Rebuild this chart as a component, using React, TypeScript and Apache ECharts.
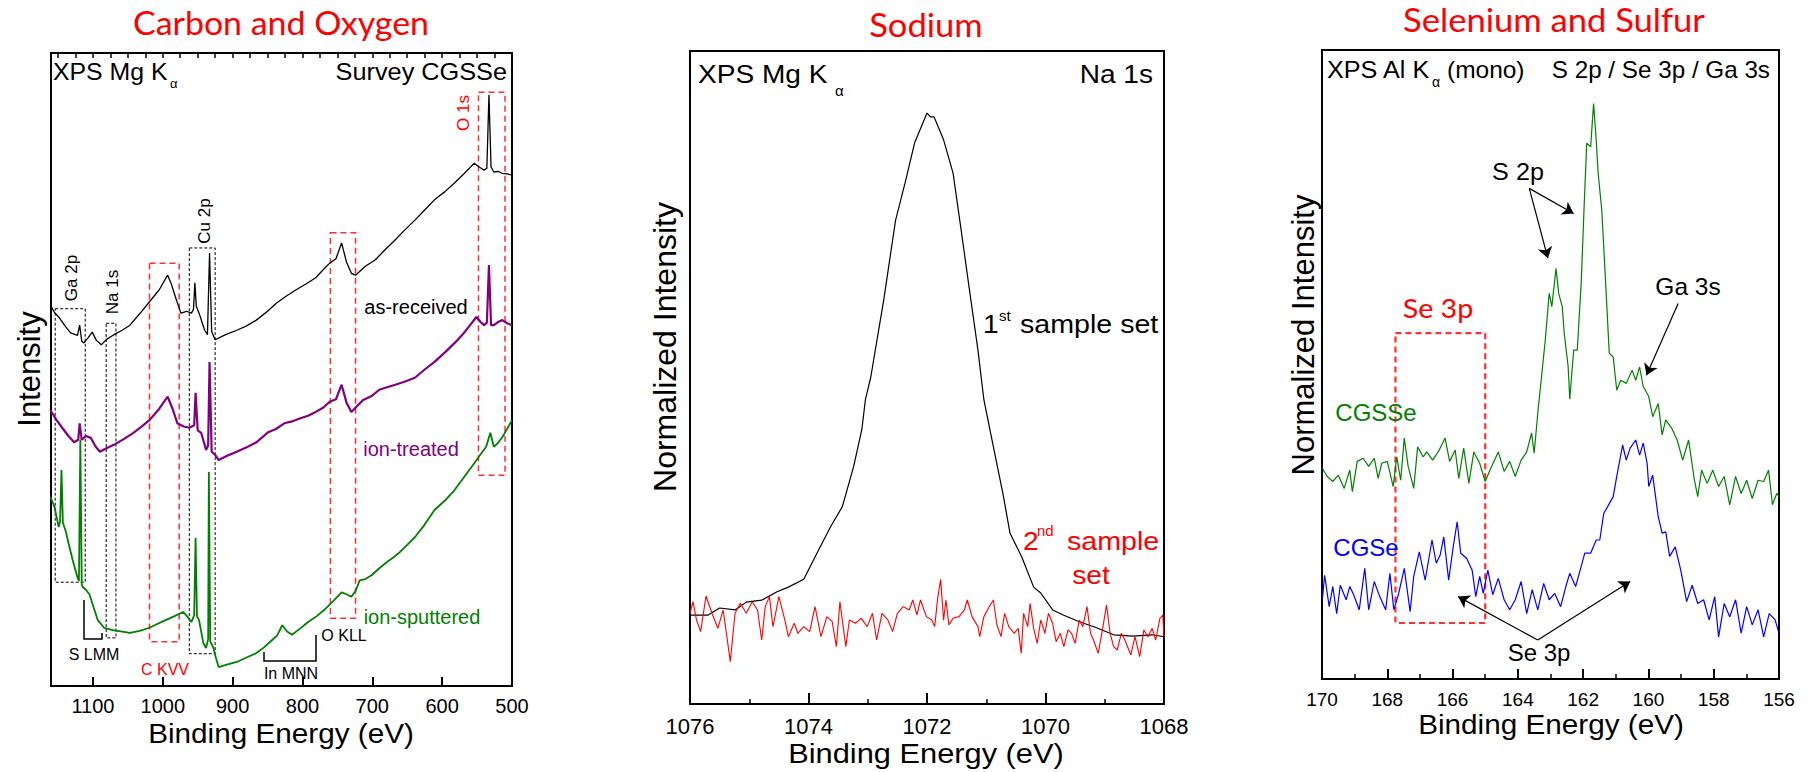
import React, { useEffect, useRef } from "react";
import * as echarts from "echarts";

// ---------- Panel 1: survey spectra (Binding energy eV, relative intensity) ----------
const asReceived: [number, number][] = [
  [1161, 60.2], [1155, 59.0], [1149, 58.3], [1140, 56.9], [1132, 55.8], [1122, 55.4], [1119, 57.0], [1116, 54.5],
  [1113, 54.2], [1107, 55.0], [1101, 55.9], [1095, 54.6], [1088, 53.9], [1080, 54.8], [1070, 55.5], [1058, 56.2],
  [1047, 57.0], [1033, 58.8], [1019, 60.7], [1005, 62.6], [993, 64.9], [988, 63.6], [982, 61.5], [974, 58.9],
  [966, 59.2], [959, 58.9], [956, 59.5], [954, 63.7], [952, 60.0], [948, 58.9], [940, 56.2], [936, 55.5],
  [933, 68.4], [930, 56.0], [925, 54.7], [910, 55.5], [894, 56.2], [880, 56.9], [866, 57.8], [850, 59.2],
  [837, 60.5], [823, 61.6], [809, 62.6], [795, 63.5], [781, 64.5], [770, 65.8], [761, 66.8], [752, 67.5],
  [744, 70.0], [737, 67.0], [730, 65.2], [724, 64.9], [710, 66.3], [696, 67.3], [681, 69.0], [667, 70.5],
  [653, 72.1], [639, 73.6], [625, 75.2], [611, 76.8], [596, 78.1], [582, 79.5], [568, 81.0], [554, 82.6],
  [547, 82.0], [540, 81.5], [536, 81.8], [533, 93.4], [530, 82.0], [526, 81.2], [520, 81.3], [514, 81.0],
  [507, 80.9], [500, 80.7],
];
const ionTreated: [number, number][] = [
  [1161, 43.6], [1152, 42.0], [1144, 40.8], [1135, 39.5], [1127, 38.5], [1121, 38.9], [1119, 41.5], [1116, 38.9],
  [1110, 39.5], [1103, 39.2], [1096, 37.8], [1090, 37.0], [1080, 37.6], [1070, 38.1], [1056, 39.0], [1042, 40.0],
  [1030, 41.0], [1019, 42.0], [1005, 43.8], [993, 45.7], [986, 43.8], [979, 41.5], [970, 41.0], [962, 40.8],
  [955, 41.2], [953, 46.3], [950, 40.4], [945, 40.0], [938, 37.3], [935, 38.0], [933, 51.2], [930, 37.0],
  [925, 36.5], [920, 35.7], [907, 36.4], [894, 37.0], [880, 37.7], [866, 38.5], [849, 40.1], [838, 40.6],
  [826, 41.5], [815, 41.8], [803, 42.3], [792, 42.7], [781, 43.3], [770, 44.0], [761, 44.9], [752, 45.3],
  [744, 47.6], [737, 44.8], [730, 43.3], [722, 44.2], [713, 45.2], [701, 45.8], [690, 46.8], [679, 47.2],
  [667, 47.6], [653, 48.1], [639, 48.7], [625, 50.0], [611, 51.2], [596, 52.7], [582, 54.2], [570, 55.6],
  [560, 57.0], [551, 58.3], [545, 57.5], [540, 57.0], [536, 57.4], [533, 66.5], [530, 57.0], [526, 57.0],
  [520, 57.5], [514, 57.8], [507, 57.3], [500, 57.0],
];
const ionSputtered: [number, number][] = [
  [1161, 29.9], [1155, 28.3], [1149, 25.1], [1147, 26.0], [1145, 34.1], [1143, 25.8], [1139, 24.5], [1135, 22.6],
  [1129, 19.9], [1122, 17.1], [1120, 16.6], [1118, 38.9], [1116, 16.0], [1114, 15.6], [1110, 15.2], [1105, 14.5],
  [1101, 13.1], [1093, 10.4], [1084, 9.2], [1070, 8.8], [1058, 8.6], [1047, 8.4], [1033, 8.7], [1019, 9.2],
  [1008, 9.8], [996, 10.4], [984, 11.0], [971, 11.7], [965, 11.0], [959, 10.1], [955, 11.2], [953, 23.4],
  [951, 11.0], [948, 10.4], [942, 6.8], [938, 6.0], [935, 7.4], [934, 33.8], [932, 7.0], [928, 6.2],
  [924, 4.5], [920, 3.0], [907, 3.4], [894, 3.8], [880, 4.5], [866, 5.2], [855, 6.1], [843, 7.3],
  [836, 8.0], [829, 9.6], [822, 8.6], [815, 8.1], [803, 9.1], [792, 10.1], [780, 11.0], [769, 12.0],
  [756, 13.4], [744, 14.8], [737, 14.5], [730, 14.1], [724, 15.0], [718, 16.7], [710, 16.9], [701, 17.5],
  [690, 18.6], [679, 19.6], [670, 20.3], [662, 21.0], [650, 22.3], [639, 23.5], [625, 25.5], [611, 27.8],
  [596, 29.3], [582, 31.0], [568, 33.1], [554, 35.2], [545, 36.6], [537, 37.8], [531, 40.0], [526, 37.8],
  [520, 38.4], [514, 39.3], [507, 40.6], [500, 42.0],
];
// dashed boxes [eV from, eV to, I low, I high]
const blackBoxes: number[][] = [
  [1154, 1111, 16.4, 59.6], [1081, 1067, 7.6, 57.3], [962, 925, 5.1, 69.2],
];
const redBoxes: number[][] = [
  [1019, 976.5, 7.0, 66.8], [760, 724, 10.7, 71.6], [548, 510, 33.3, 93.8],
];
const surveyTicks = [500, 1160, 100, 25];

// ---------- Panel 2: Na 1s ----------
const naFirst: [number, number][] = [
  [1076.0, 13.6], [1075.7, 13.6], [1075.5, 14.7], [1075.24, 14.4], [1075.05, 15.6], [1074.79, 15.9], [1074.53, 17.2],
  [1074.34, 17.9], [1074.08, 19.1], [1073.89, 22.5], [1073.63, 27.1], [1073.43, 30.2], [1073.24, 36.3], [1073.1, 42.0],
  [1073.04, 46.6], [1072.95, 50.0], [1072.73, 61.9], [1072.53, 74.1], [1072.37, 79.8], [1072.21, 85.9], [1072.0, 90.5],
  [1071.94, 89.9], [1071.88, 89.9], [1071.72, 86.4], [1071.56, 81.3], [1071.43, 73.0], [1071.3, 64.5], [1071.14, 54.2],
  [1071.04, 46.6], [1070.88, 39.4], [1070.72, 32.3], [1070.6, 26.2], [1070.4, 22.5], [1070.2, 17.9], [1070.08, 17.0],
  [1069.88, 14.4], [1069.69, 13.6], [1069.43, 12.6], [1069.17, 11.8], [1068.85, 10.6], [1068.53, 10.4], [1068.2, 10.6],
  [1068.0, 10.3],
];
const naSecond: [number, number][] = [
  [1076.0, 13.89], [1075.95, 15.67], [1075.89, 12.87], [1075.82, 11.08], [1075.73, 16.54], [1075.63, 13.89],
  [1075.53, 11.59], [1075.44, 14.4], [1075.32, 6.49], [1075.24, 13.89], [1075.15, 15.42], [1075.05, 13.89],
  [1074.95, 15.67], [1074.86, 14.4], [1074.79, 9.8], [1074.73, 14.91], [1074.66, 16.44], [1074.6, 11.85],
  [1074.5, 16.44], [1074.4, 12.87], [1074.34, 10.31], [1074.24, 12.36], [1074.18, 10.83], [1074.08, 11.85],
  [1073.98, 11.08], [1073.89, 14.91], [1073.79, 10.31], [1073.69, 13.38], [1073.6, 12.61], [1073.53, 8.78],
  [1073.47, 15.67], [1073.37, 8.78], [1073.31, 12.87], [1073.21, 12.36], [1073.11, 13.12], [1073.01, 11.85],
  [1072.92, 13.89], [1072.85, 9.8], [1072.76, 13.89], [1072.66, 12.87], [1072.58, 11.08], [1072.5, 13.89],
  [1072.4, 14.91], [1072.3, 14.4], [1072.24, 15.93], [1072.17, 13.63], [1072.11, 15.93], [1072.01, 13.38],
  [1071.92, 12.87], [1071.87, 11.85], [1071.82, 16.18], [1071.77, 19.09], [1071.72, 12.87], [1071.68, 15.93],
  [1071.63, 12.1], [1071.56, 13.12], [1071.46, 13.38], [1071.37, 14.4], [1071.32, 15.93], [1071.24, 13.38],
  [1071.14, 11.85], [1071.11, 10.31], [1071.04, 13.38], [1070.95, 14.91], [1070.88, 15.93], [1070.82, 12.1],
  [1070.75, 10.31], [1070.69, 13.89], [1070.62, 11.85], [1070.53, 10.83], [1070.46, 11.59], [1070.41, 7.76],
  [1070.37, 13.89], [1070.3, 11.85], [1070.26, 15.42], [1070.2, 11.59], [1070.14, 9.29], [1070.08, 12.87],
  [1070.01, 10.83], [1069.95, 13.89], [1069.88, 12.36], [1069.82, 9.55], [1069.75, 10.83], [1069.69, 8.78],
  [1069.62, 11.34], [1069.56, 10.83], [1069.5, 9.29], [1069.43, 12.87], [1069.37, 11.85], [1069.3, 14.91],
  [1069.24, 10.83], [1069.19, 9.8], [1069.11, 7.76], [1069.03, 11.85], [1068.97, 15.16], [1068.91, 10.83],
  [1068.85, 8.78], [1068.79, 8.27], [1068.72, 10.83], [1068.66, 9.8], [1068.56, 7.51], [1068.49, 10.31],
  [1068.41, 7.25], [1068.34, 11.34], [1068.27, 10.31], [1068.2, 11.59], [1068.14, 9.8], [1068.07, 13.12],
  [1068.02, 13.63], [1068.0, 10.31],
];
const naTicks = [1068, 1076, 2, 2];

// ---------- Panel 3: S 2p / Se 3p / Ga 3s ----------
const cgsse: [number, number][] = [
  [169.99, 33.5], [169.84, 32.2], [169.67, 31.4], [169.5, 32.4], [169.32, 30.3], [169.15, 33.2], [169.07, 29.8],
  [168.92, 34.6], [168.74, 35.1], [168.57, 33.8], [168.4, 35.1], [168.28, 31.9], [168.17, 34.3], [168.0, 34.6],
  [167.82, 30.6], [167.71, 35.3], [167.59, 31.6], [167.48, 38.3], [167.36, 33.8], [167.19, 30.3], [167.07, 36.9],
  [166.9, 35.3], [166.79, 36.1], [166.61, 34.8], [166.44, 36.1], [166.23, 38.3], [166.09, 34.6], [165.92, 36.4],
  [165.81, 31.9], [165.66, 36.7], [165.5, 31.1], [165.35, 36.1], [165.17, 34.3], [165.0, 31.4], [164.83, 33.5],
  [164.6, 36.1], [164.42, 33.0], [164.25, 34.6], [164.08, 32.2], [163.9, 34.8], [163.73, 36.1], [163.58, 39.1],
  [163.5, 35.9], [163.38, 42.8], [163.27, 48.3], [163.16, 53.9], [163.04, 61.3], [162.96, 59.2], [162.83, 65.3],
  [162.75, 61.3], [162.64, 59.2], [162.58, 55.0], [162.46, 49.7], [162.41, 44.5], [162.29, 52.3], [162.18, 52.3],
  [162.06, 62.9], [161.97, 75.1], [161.89, 85.2], [161.77, 84.6], [161.68, 91.5], [161.6, 85.7], [161.54, 80.4],
  [161.43, 74.6], [161.31, 62.9], [161.2, 51.8], [161.08, 51.2], [160.97, 45.9], [160.85, 47.5], [160.68, 47.0],
  [160.5, 49.1], [160.39, 47.5], [160.27, 49.6], [160.16, 46.5], [159.99, 44.9], [159.87, 41.7], [159.7, 43.8],
  [159.58, 38.8], [159.47, 41.2], [159.29, 39.9], [159.12, 38.0], [158.95, 34.8], [158.77, 38.0], [158.6, 31.9],
  [158.49, 29.0], [158.37, 33.2], [158.2, 31.1], [158.03, 33.2], [157.85, 30.6], [157.68, 32.2], [157.51, 27.7],
  [157.33, 32.2], [157.16, 29.5], [156.99, 31.6], [156.82, 28.7], [156.64, 31.6], [156.47, 31.4], [156.32, 33.2],
  [156.2, 27.7], [156.07, 29.5], [156.0, 29.0],
];
const cgse: [number, number][] = [
  [169.99, 12.6], [169.92, 16.5], [169.78, 11.5], [169.67, 14.7], [169.55, 10.4], [169.44, 14.9], [169.26, 12.6],
  [169.15, 14.7], [169.03, 13.4], [168.86, 11.0], [168.69, 17.6], [168.57, 11.0], [168.4, 15.5], [168.23, 13.1],
  [168.05, 11.0], [167.92, 16.8], [167.8, 11.0], [167.65, 13.6], [167.48, 17.6], [167.3, 10.7], [167.19, 16.3],
  [167.02, 20.2], [166.84, 15.7], [166.63, 22.1], [166.5, 18.4], [166.38, 19.7], [166.27, 22.6], [166.12, 15.7],
  [165.98, 21.0], [165.86, 25.0], [165.75, 20.0], [165.57, 19.2], [165.4, 17.3], [165.29, 13.1], [165.17, 16.3],
  [165.06, 13.6], [164.92, 17.3], [164.77, 13.4], [164.6, 16.0], [164.42, 12.6], [164.25, 11.0], [164.08, 12.6],
  [163.9, 15.5], [163.73, 10.4], [163.56, 14.2], [163.39, 11.0], [163.21, 15.2], [163.04, 12.6], [162.87, 13.6],
  [162.69, 11.5], [162.52, 14.9], [162.41, 16.8], [162.23, 14.7], [162.06, 17.9], [161.95, 20.0], [161.77, 20.0],
  [161.6, 22.1], [161.49, 22.1], [161.37, 26.3], [161.25, 27.4], [161.08, 29.0], [160.97, 32.2], [160.79, 37.2],
  [160.68, 34.8], [160.56, 36.7], [160.39, 38.0], [160.27, 35.6], [160.16, 37.5], [160.04, 34.3], [159.99, 30.6],
  [159.87, 32.4], [159.7, 25.8], [159.58, 23.2], [159.47, 23.4], [159.35, 19.5], [159.18, 21.0], [159.01, 17.3],
  [158.83, 12.3], [158.66, 14.9], [158.49, 12.0], [158.31, 12.6], [158.14, 9.4], [157.97, 13.1], [157.85, 6.7],
  [157.68, 12.0], [157.51, 9.9], [157.33, 12.6], [157.16, 7.3], [156.99, 11.5], [156.82, 8.6], [156.64, 11.0],
  [156.47, 6.7], [156.3, 10.4], [156.12, 9.4], [156.0, 7.3],
];
const se3pBox: number[] = [167.75, 165.0, 8.9, 55.0];
// arrows [from eV, from I, to eV, to I]
const arrows: number[][] = [
  [163.65, 78.0, 163.08, 66.9], [163.65, 78.0, 162.29, 74.0],
  [159.09, 59.7, 160.06, 48.3],
  [163.39, 6.2, 165.83, 13.1], [163.39, 6.2, 160.56, 15.5],
];
const s2pTicks = [156, 170, 2, 2];

const ARIAL = "'Liberation Sans', Arial, sans-serif";
const CAL = "Lato, 'Open Sans', sans-serif";

function txt(x: number, y: number, text: string, size: number, o: any = {}) {
  const align = o.align || "center";
  return {
    type: "text",
    x, y,
    rotation: o.rotate || 0,
    scaleX: o.scaleX || 1,
    silent: true,
    z: 100,
    style: {
      text,
      fill: o.color || "#000",
      font: `${size}px ${o.family || ARIAL}`,
      align, verticalAlign: "middle",
      textAlign: align, textVerticalAlign: "middle",
    },
  };
}
function pline(points: number[][]) {
  return { type: "polyline", silent: true, z: 90, shape: { points }, style: { stroke: "#000", lineWidth: 1.5, fill: "none" } };
}

const boxStyle = (red: boolean, w = 1.5) => ({
  color: "rgba(0,0,0,0)",
  borderColor: red ? "#ff3030" : "#000",
  borderWidth: red ? w : 1,
  borderType: red ? [6, 4] : [3, 2],
});

function xAx(grid: number, t: number[], o: any = {}) {
  return {
    type: "value", gridIndex: grid, min: t[0], max: t[1], interval: t[2], inverse: true,
    axisLine: { show: o.line !== false, onZero: false, lineStyle: { color: "#000", width: 2 } },
    axisTick: { show: true, inside: true, length: o.tick || 9, lineStyle: { color: "#000", width: o.tickW || 2 } },
    minorTick: { show: !!o.minor, splitNumber: t[3], length: 5, lineStyle: { color: "#000", width: 1.5 } },
    axisLabel: {
      show: o.label !== false, color: "#000", fontSize: o.fs || 20, fontFamily: ARIAL, margin: o.margin || 10,
      showMaxLabel: o.showMax !== false, showMinLabel: true,
      formatter: (v: number) => String(v),
    },
    splitLine: { show: false },
  };
}
function yAx(grid: number) {
  return { type: "value", gridIndex: grid, min: 0, max: 100, show: false, splitLine: { show: false } };
}
function ser(data: [number, number][], xi: number, yi: number, color: string, width: number, extra: any = {}) {
  return {
    type: "line", xAxisIndex: xi, yAxisIndex: yi, data, symbol: "none", showSymbol: false, silent: true,
    lineStyle: { color, width }, itemStyle: { color }, animation: false, ...extra,
  };
}

export default function App() {
  const ref = useRef<HTMLDivElement>(null);
  useEffect(() => {
    if (!ref.current) return;
    const chart = echarts.init(ref.current, undefined, { renderer: "svg" });
    const gridBase = { show: true, borderColor: "#000", borderWidth: 2, backgroundColor: "transparent", containLabel: false };
    const surveyAreas = [
      ...blackBoxes.map((b) => [{ xAxis: b[0], yAxis: b[3], itemStyle: boxStyle(false) }, { xAxis: b[1], yAxis: b[2] }]),
      ...redBoxes.map((b) => [{ xAxis: b[0], yAxis: b[3], itemStyle: boxStyle(true) }, { xAxis: b[1], yAxis: b[2] }]),
    ];
    const S1 = 1.08;
    const option: any = {
      animation: false,
      backgroundColor: "#fff",
      grid: [
        { ...gridBase, left: 51, top: 53, width: 461, height: 633 },
        { ...gridBase, left: 690, top: 51, width: 474, height: 653 },
        { ...gridBase, left: 1322, top: 50, width: 457, height: 629 },
      ],
      xAxis: [
        xAx(0, [surveyTicks[0], surveyTicks[1], surveyTicks[2], 1], { showMax: false, fs: 20, margin: 10 }),
        xAx(0, [surveyTicks[0], surveyTicks[1], surveyTicks[3], 1], { label: false, line: false, tick: 5, tickW: 1.5 }),
        xAx(1, naTicks, { minor: true, tick: 11, fs: 22, margin: 11 }),
        xAx(2, s2pTicks, { minor: true, tick: 10, fs: 19, margin: 11 }),
      ],
      yAxis: [yAx(0), yAx(1), yAx(2)],
      series: [
        ser(asReceived, 0, 0, "#000", 1.3, {
          markArea: { silent: true, label: { show: false }, data: surveyAreas },
        }),
        ser(ionTreated, 0, 0, "#800080", 2.2),
        ser(ionSputtered, 0, 0, "#008000", 1.8),
        ser(naFirst, 2, 1, "#000", 1.2),
        ser(naSecond, 2, 1, "#ff0000", 1.1),
        ser(cgsse, 3, 2, "#008000", 1.2, {
          markArea: {
            silent: true, label: { show: false },
            data: [[{ xAxis: se3pBox[0], yAxis: se3pBox[3], itemStyle: boxStyle(true, 2.2) }, { xAxis: se3pBox[1], yAxis: se3pBox[2] }]],
          },
        }),
        ser(cgse, 3, 2, "#0000ff", 1.2, {
          markLine: {
            silent: true, symbol: ["none", "arrow"], symbolSize: 11, label: { show: false },
            lineStyle: { color: "#000", width: 1.2, type: "solid" },
            emphasis: { disabled: true },
            data: arrows.map((a) => [{ coord: [a[0], a[1]] }, { coord: [a[2], a[3]] }]),
          },
        }),
      ],
      graphic: [
        // panel 1
        txt(281, 22, "Carbon and Oxygen", 32, { color: "#ff0000", family: CAL, scaleX: 1.06 }),
        txt(53, 72, "XPS Mg K", 23, { align: "left", scaleX: S1 }),
        txt(170, 83, "α", 13, { align: "left" }),
        txt(507, 72, "Survey CGSSe", 23, { align: "right", scaleX: 1.1 }),
        txt(29, 369, "Intensity", 31, { rotate: Math.PI / 2 }),
        txt(281, 733, "Binding Energy (eV)", 27, { scaleX: 1.1 }),
        txt(71, 278, "Ga 2p", 17, { rotate: Math.PI / 2 }),
        txt(112, 292, "Na 1s", 17, { rotate: Math.PI / 2 }),
        txt(204, 221, "Cu 2p", 17, { rotate: Math.PI / 2 }),
        txt(463, 113, "O 1s", 17, { rotate: Math.PI / 2, color: "#ff0000" }),
        txt(416, 307, "as-received", 20),
        txt(411, 449, "ion-treated", 20, { color: "#800080" }),
        txt(422, 617, "ion-sputtered", 20, { color: "#008000" }),
        txt(94, 654, "S LMM", 16),
        txt(165, 669, "C KVV", 16, { color: "#ff0000" }),
        txt(291, 673, "In MNN", 16),
        txt(344, 635, "O KLL", 16),
        pline([[84, 600], [84, 639], [102, 639], [102, 633]]),
        pline([[264, 652], [264, 661], [316, 661], [316, 635]]),
        // panel 2
        txt(926, 25, "Sodium", 32, { color: "#ff0000", family: CAL, scaleX: 1.08 }),
        txt(698, 74, "XPS Mg K", 26, { align: "left", scaleX: S1 }),
        txt(835, 90, "α", 15, { align: "left" }),
        txt(1153, 74, "Na 1s", 26, { align: "right", scaleX: S1 }),
        txt(665, 347, "Normalized Intensity", 32, { rotate: Math.PI / 2 }),
        txt(983, 324, "1", 26, { align: "left", scaleX: S1 }),
        txt(999, 315, "st", 15, { align: "left" }),
        txt(1020, 324, "sample set", 26, { align: "left", scaleX: 1.1 }),
        txt(1023, 541, "2", 26, { align: "left", color: "#ff0000", scaleX: S1 }),
        txt(1037, 530, "nd", 15, { align: "left", color: "#ff0000" }),
        txt(1067, 541, "sample", 26, { align: "left", color: "#ff0000", scaleX: 1.1 }),
        txt(1091, 575, "set", 26, { color: "#ff0000", scaleX: S1 }),
        txt(926, 753, "Binding Energy (eV)", 28, { scaleX: 1.1 }),
        // panel 3
        txt(1554, 20, "Selenium and Sulfur", 32, { color: "#ff0000", family: CAL, scaleX: 1.08 }),
        txt(1327, 70, "XPS Al K", 24, { align: "left", scaleX: 1.05 }),
        txt(1432, 82, "α", 14, { align: "left" }),
        txt(1447, 70, "(mono)", 24, { align: "left", scaleX: 1.02 }),
        txt(1770, 70, "S 2p / Se 3p / Ga 3s", 24, { align: "right", scaleX: 1.01 }),
        txt(1303, 335, "Normalized Intensity", 31, { rotate: Math.PI / 2 }),
        txt(1518, 172, "S 2p", 24, { scaleX: 1.05 }),
        txt(1688, 287, "Ga 3s", 24, { scaleX: 1.02 }),
        txt(1438, 308, "Se 3p", 26, { color: "#ff0000", family: CAL, scaleX: 1.1 }),
        txt(1376, 412, "CGSSe", 24, { color: "#008000" }),
        txt(1366, 547, "CGSe", 24, { color: "#0000ff" }),
        txt(1539, 652, "Se 3p", 24),
        txt(1551, 724, "Binding Energy (eV)", 27, { scaleX: 1.1 }),
      ],
    };
    chart.setOption(option);
    return () => chart.dispose();
  }, []);
  return <div ref={ref} style={{ position: "absolute", left: 0, top: 0, width: 1810, height: 772 }} />;
}
